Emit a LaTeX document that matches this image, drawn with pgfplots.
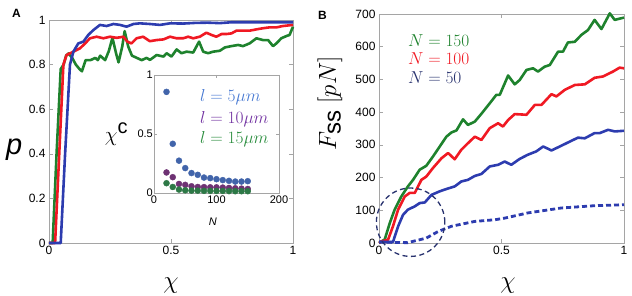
\documentclass[border=0pt]{standalone}
\usepackage{fontspec}
\setmainfont{Liberation Sans}
\usepackage{pgfplots}
\pgfplotsset{compat=1.18}
\definecolor{cblue}{RGB}{45,60,175}
\definecolor{cred}{RGB}{240,25,35}
\definecolor{cgreen}{RGB}{30,130,45}
\definecolor{dblue}{RGB}{65,100,170}
\definecolor{dpurple}{RGB}{110,50,115}
\definecolor{dgreen}{RGB}{45,120,70}
\definecolor{tblue}{RGB}{70,120,210}
\definecolor{tpurple}{RGB}{112,48,160}
\definecolor{tgreen}{RGB}{40,140,60}
\definecolor{navy}{RGB}{40,50,110}
\definecolor{axgray}{RGB}{165,165,165}
\begin{document}
\begin{tikzpicture}
\path[use as bounding box] (0pt,0pt) rectangle (632pt,296pt);
\pgfplotsset{myax/.style={scale only axis, axis line style={draw=axgray, line width=0.6pt},
  tick style={draw=axgray, line width=0.5pt}, tick align=inside, major tick length=4pt,
  /pgf/number format/assume math mode=true,
  ticklabel style={font=\fontsize{12}{12}\selectfont}, clip=false},
  cl/.style={line width=2.6pt, line join=round}}

% ---------- Panel A ----------
\begin{axis}[myax, at={(49pt,53pt)}, anchor=south west, width=244pt, height=223pt,
  xmin=0,xmax=1,ymin=0,ymax=1, xtick={0,0.5,1}, ytick={0,0.2,0.4,0.6,0.8,1},
  xlabel={$\chi$}, xlabel style={font=\fontsize{28}{28}\selectfont, at={(axis description cs:0.5,-0.19)}, anchor=center},
  ylabel={\textit{p}}, ylabel style={font=\fontsize{29}{29}\selectfont, at={(axis description cs:-0.143,0.42)}, anchor=center, rotate=-90}]
\addplot[cl, cgreen] coordinates {(0,0)(0.015,0)(0.031,0.4)(0.048,0.78)(0.06,0.80)(0.07,0.84)(0.08,0.85)(0.095,0.83)(0.11,0.80)(0.125,0.78)(0.135,0.77)(0.15,0.82)(0.17,0.82)(0.19,0.83)(0.2,0.82)(0.21,0.84)(0.23,0.82)(0.245,0.86)(0.26,0.92)(0.275,0.85)(0.285,0.81)(0.3,0.88)(0.31,0.95)(0.325,0.88)(0.34,0.84)(0.36,0.83)(0.38,0.82)(0.4,0.83)(0.414,0.821)(0.441,0.843)(0.469,0.836)(0.482,0.851)(0.502,0.836)(0.523,0.868)(0.543,0.851)(0.564,0.858)(0.591,0.854)(0.615,0.903)(0.632,0.858)(0.652,0.851)(0.673,0.858)(0.7,0.862)(0.721,0.877)(0.748,0.883)(0.775,0.888)(0.795,0.883)(0.822,0.895)(0.85,0.918)(0.877,0.91)(0.898,0.91)(0.918,0.883)(0.932,0.895)(0.952,0.918)(0.973,0.928)(0.986,0.933)(1,0.97)};
\addplot[cl, cred] coordinates {(0,0)(0.025,0)(0.042,0.4)(0.059,0.8)(0.072,0.843)(0.1,0.858)(0.127,0.873)(0.148,0.895)(0.168,0.918)(0.195,0.925)(0.223,0.918)(0.25,0.925)(0.277,0.92)(0.305,0.925)(0.321,0.903)(0.338,0.895)(0.359,0.918)(0.386,0.925)(0.413,0.905)(0.441,0.91)(0.469,0.913)(0.496,0.925)(0.523,0.918)(0.55,0.918)(0.57,0.925)(0.591,0.918)(0.618,0.925)(0.645,0.943)(0.666,0.933)(0.686,0.925)(0.707,0.937)(0.727,0.937)(0.748,0.94)(0.768,0.952)(0.795,0.952)(0.822,0.952)(0.85,0.958)(0.877,0.963)(0.904,0.967)(0.932,0.967)(0.959,0.973)(1,0.978)};
\addplot[cl, cblue] coordinates {(0,0)(0.048,0)(0.066,0.4)(0.086,0.8)(0.1,0.858)(0.12,0.895)(0.141,0.903)(0.161,0.933)(0.182,0.955)(0.209,0.978)(0.236,0.973)(0.264,0.982)(0.291,0.978)(0.318,0.97)(0.346,0.982)(0.373,0.985)(0.414,0.982)(0.455,0.978)(0.496,0.985)(0.55,0.984)(0.6,0.987)(0.65,0.988)(0.7,0.986)(0.75,0.99)(0.8,0.99)(0.85,0.99)(0.9,0.99)(0.95,0.99)(1,0.99)};
\end{axis}

% ---------- Inset ----------
\begin{axis}[myax, at={(154pt,103pt)}, anchor=south west, width=125pt, height=118pt,
  xmin=0,xmax=200,ymin=0,ymax=1, xtick={0,100,200}, ytick={0,0.5,1},
  major tick length=3pt,
  ticklabel style={font=\fontsize{11}{11}\selectfont},
  yticklabel style={inner sep=1pt}, xticklabel style={inner sep=2.8pt},
  xlabel={\textit{N}}, xlabel style={font=\fontsize{11}{11}\selectfont, at={(axis description cs:0.47,-0.24)}, anchor=center},
  ylabel={$\chi^{\textrm{c}}$}, ylabel style={font=\fontsize{20}{20}\selectfont, at={(axis description cs:-0.3,0.5)}, anchor=center, rotate=-90}]
\addplot[only marks, mark=*, mark size=3pt, color=dblue] coordinates {(20,0.857)(30,0.417)(40,0.274)(50,0.211)(60,0.169)(70,0.154)(80,0.131)(90,0.126)(100,0.117)(110,0.109)(120,0.103)(130,0.097)(140,0.097)(150,0.1)};
\addplot[only marks, mark=*, mark size=3pt, color=dpurple] coordinates {(20,0.174)(30,0.134)(40,0.077)(50,0.069)(60,0.057)(70,0.051)(80,0.05)(90,0.048)(100,0.048)(110,0.046)(120,0.043)(130,0.04)(140,0.037)(150,0.034)};
\addplot[only marks, mark=*, mark size=3pt, color=dgreen] coordinates {(20,0.083)(30,0.051)(40,0.029)(50,0.023)(60,0.02)(70,0.02)(80,0.018)(90,0.018)(100,0.017)(110,0.017)(120,0.016)(130,0.015)(140,0.015)(150,0.015)};
\end{axis}
\node[anchor=base west, text=tblue, font=\fontsize{17.5}{17.5}\selectfont, inner sep=0] at (200pt,194.3pt) {$l=5\mu m$};
\node[anchor=base west, text=tpurple, font=\fontsize{17.5}{17.5}\selectfont, inner sep=0] at (200pt,172.7pt) {$l=10\mu m$};
\node[anchor=base west, text=tgreen, font=\fontsize{17.5}{17.5}\selectfont, inner sep=0] at (200pt,152pt) {$l=15\mu m$};

% ---------- Panel B ----------
\begin{axis}[myax, at={(379pt,53pt)}, anchor=south west, width=245pt, height=229pt,
  xmin=0,xmax=1,ymin=0,ymax=700, xtick={0,0.5,1}, ytick={0,100,...,700},
  xlabel={$\chi$}, xlabel style={font=\fontsize{28}{28}\selectfont, at={(axis description cs:0.527,-0.185)}, anchor=center},
  ylabel={$F_{\textrm{ss}}\ [pN]$}, ylabel style={font=\fontsize{24}{24}\selectfont, at={(axis description cs:-0.2,0.61)}, anchor=center}]
\addplot[cl, cgreen] coordinates {(0,0)(0.01,5)(0.023,10)(0.044,61)(0.064,102)(0.091,142)(0.118,173)(0.139,193)(0.166,224)(0.193,236)(0.22,264)(0.248,295)(0.275,325)(0.296,338)(0.316,344)(0.343,378)(0.363,361)(0.391,371)(0.418,395)(0.452,427)(0.479,453)(0.493,453)(0.527,512)(0.554,485)(0.574,498)(0.602,529)(0.629,534)(0.649,524)(0.676,539)(0.697,544)(0.731,585)(0.751,585)(0.771,613)(0.799,615)(0.826,636)(0.853,651)(0.88,682)(0.908,654)(0.942,702)(0.962,682)(1,689)};
\addplot[cl, cred] coordinates {(0,0)(0.01,5)(0.037,10)(0.057,51)(0.078,102)(0.105,142)(0.125,153)(0.146,153)(0.173,193)(0.193,203)(0.22,229)(0.255,259)(0.282,275)(0.309,256)(0.336,285)(0.363,305)(0.391,325)(0.418,315)(0.452,351)(0.486,366)(0.506,356)(0.527,376)(0.554,394)(0.602,392)(0.636,422)(0.663,422)(0.704,455)(0.724,448)(0.758,468)(0.799,483)(0.84,485)(0.88,505)(0.914,509)(0.955,524)(0.982,536)(1,534)};
\addplot[cl, cblue] coordinates {(0,3)(0.057,3)(0.078,51)(0.098,86)(0.118,102)(0.146,112)(0.166,122)(0.187,124)(0.214,147)(0.248,158)(0.275,165)(0.309,173)(0.336,188)(0.363,193)(0.391,205)(0.418,211)(0.452,234)(0.486,239)(0.513,249)(0.54,239)(0.574,257)(0.608,270)(0.642,280)(0.67,295)(0.704,283)(0.738,295)(0.765,305)(0.812,322)(0.84,320)(0.88,336)(0.901,336)(0.935,346)(0.962,341)(1,343)};
\addplot[line width=2.8pt, cblue, dash pattern=on 5pt off 3pt] coordinates {(0,3)(0.05,2)(0.117,1)(0.193,15)(0.241,35)(0.295,51)(0.391,66)(0.472,71)(0.513,76)(0.608,92)(0.744,107)(0.88,114)(1,117)};
\draw[navy, line width=1.3pt, dash pattern=on 5pt off 3.5pt] (axis cs:0.129,63.5) ellipse [x radius=34.2pt, y radius=34.2pt];
\end{axis}
\node[anchor=base west, text=cgreen, font=\fontsize{17.5}{17.5}\selectfont, inner sep=0] at (408pt,249.5pt) {$N=150$};
\node[anchor=base west, text=cred, font=\fontsize{17.5}{17.5}\selectfont, inner sep=0] at (408pt,231pt) {$N=100$};
\node[anchor=base west, text=navy, font=\fontsize{17.5}{17.5}\selectfont, inner sep=0] at (408pt,212pt) {$N=50$};

% panel labels
\node[anchor=base west, font=\fontsize{12}{12}\selectfont\bfseries, inner sep=0] at (12pt,278pt) {A};
\node[anchor=base west, font=\fontsize{12}{12}\selectfont\bfseries, inner sep=0] at (318pt,276pt) {B};
\end{tikzpicture}
\end{document}
